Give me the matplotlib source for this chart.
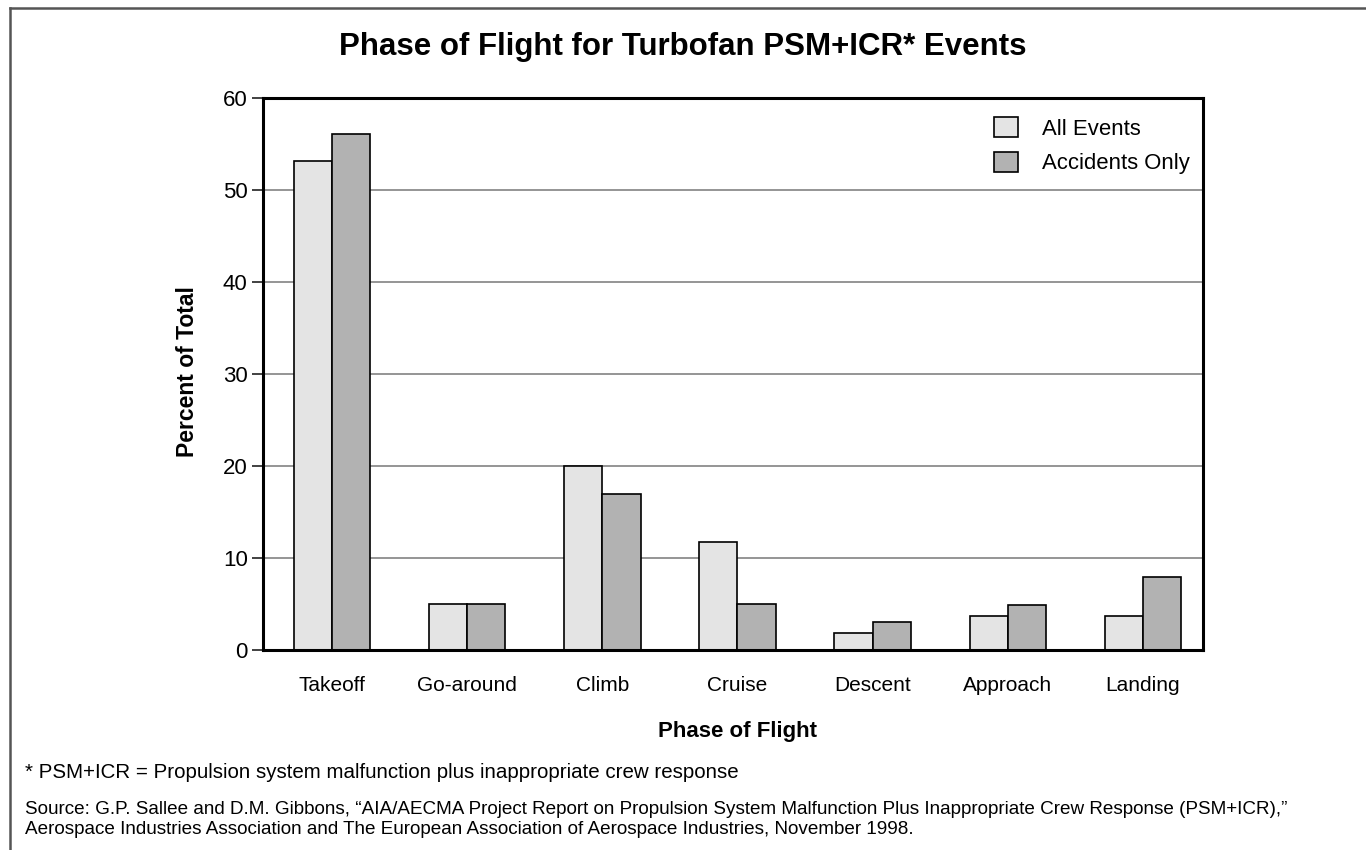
import matplotlib
matplotlib.use('Agg')
import matplotlib.pyplot as plt
import numpy as np
from matplotlib.lines import Line2D

# chart data
phases = ['Takeoff', 'Go-around', 'Climb', 'Cruise', 'Descent', 'Approach', 'Landing']
all_events = [53.2, 5.0, 20.0, 11.7, 1.9, 3.7, 3.7]
accidents_only = [56.1, 5.0, 17.0, 5.0, 3.0, 4.9, 7.9]
y_ticks = [0, 10, 20, 30, 40, 50, 60]

title_str = "Phase of Flight for Turbofan PSM+ICR* Events"
note_str = "* PSM+ICR = Propulsion system malfunction plus inappropriate crew response"
source_str_1 = ("Source: G.P. Sallee and D.M. Gibbons, \u201cAIA/AECMA Project Report on Propulsion System "
                "Malfunction Plus Inappropriate Crew Response (PSM+ICR),\u201d")
source_str_2 = ("Aerospace Industries Association and The European Association of Aerospace Industries, "
                "November 1998.")

# declare the plot colors
all_color = '#e4e4e4'
acc_color = '#b2b2b2'
grid_color = '#8c8c8c'

plt.rcParams['font.family'] = ['Liberation Sans', 'DejaVu Sans']

fig = plt.figure(figsize=(13.66, 8.5), dpi=100)
ax = fig.add_axes([263 / 1366, 1 - 650 / 850, 940 / 1366, 552 / 850])

# bars, two per phase
x = np.arange(len(phases))
bar_w = 0.283
ax.bar(x - bar_w / 2, all_events, bar_w, color=all_color, edgecolor='black', linewidth=1.2,
       label='All Events', zorder=3)
ax.bar(x + bar_w / 2, accidents_only, bar_w, color=acc_color, edgecolor='black', linewidth=1.2,
       label='Accidents Only', zorder=3)

ax.set_xlim(-0.51, 6.444)
ax.set_ylim(0, 60)
ax.set_yticks(y_ticks)
ax.set_xticks(x)
ax.set_xticklabels(phases)

# grid lines and frame
ax.yaxis.grid(True, color=grid_color, linewidth=1.3, zorder=0)
ax.set_axisbelow(True)
for sp in ax.spines.values():
    sp.set_linewidth(2.2)
    sp.set_zorder(4)

ax.tick_params(axis='x', length=0, pad=19, labelsize=15)
ax.tick_params(axis='y', length=8, width=1.3, pad=3, labelsize=16, color='#333333')

# legend
ax.legend(loc='upper left', bbox_to_anchor=(0.778, 0.966), frameon=False, fontsize=15.9,
          handlelength=1.05, handleheight=1.05, handletextpad=1.1, labelspacing=0.55,
          borderpad=0, borderaxespad=0)

# text
fig.text(683 / 1366, 1 - 47 / 850, title_str, ha='center', va='center', fontsize=22.5, fontweight='bold')
fig.text(188 / 1366, 1 - 372 / 850, 'Percent of Total', rotation=90, ha='center', va='center',
         fontsize=16.5, fontweight='bold')
fig.text(737 / 1366, 1 - 732 / 850, 'Phase of Flight', ha='center', va='center',
         fontsize=16, fontweight='bold')
fig.text(25 / 1366, 1 - 773 / 850, note_str, ha='left', va='center', fontsize=14.8)
fig.text(25 / 1366, 1 - 809 / 850, source_str_1, ha='left', va='center', fontsize=13.6)
fig.text(25 / 1366, 1 - 830 / 850, source_str_2, ha='left', va='center', fontsize=13.6)

# page border on top and left
fig.add_artist(Line2D([10 / 1366, 1], [1 - 8 / 850, 1 - 8 / 850], transform=fig.transFigure,
                      color='#555555', linewidth=1.8))
fig.add_artist(Line2D([10 / 1366, 10 / 1366], [0, 1 - 8 / 850], transform=fig.transFigure,
                      color='#555555', linewidth=1.8))

fig.savefig('out.png', dpi=100)
